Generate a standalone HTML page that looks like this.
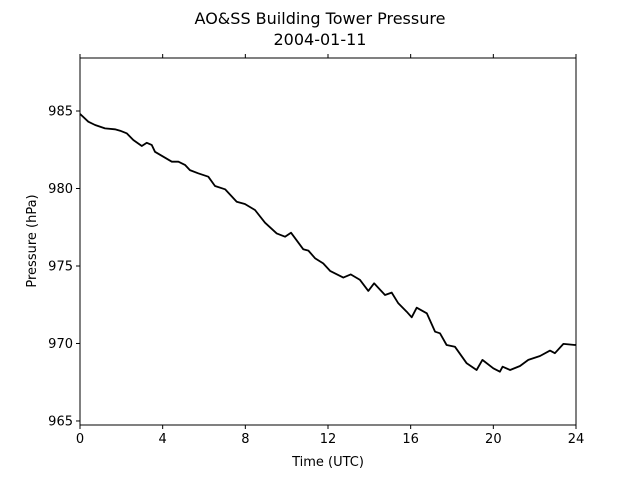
<!DOCTYPE html>
<html><head><meta charset="utf-8"><style>
body{margin:0;background:#fff}
svg{display:block;font-family:"DejaVu Sans","Liberation Sans",sans-serif}
</style></head><body>
<svg id="chart" width="640" height="480" viewBox="0 0 640 480">
<text x="320" y="24" text-anchor="middle" font-size="16">AO&amp;SS Building Tower Pressure</text>
<text x="320" y="45" text-anchor="middle" font-size="16">2004-01-11</text>
<rect x="80" y="58" width="496" height="367" fill="none" stroke="#000" stroke-width="1"/>
<g id="xticks"></g>
<g id="yticks"></g>
<path id="line" fill="none" stroke="#000" stroke-width="1.8" stroke-linejoin="round"/>
<text x="328" y="466" text-anchor="middle" font-size="13">Time (UTC)</text>
<text transform="translate(36,241) rotate(-90)" text-anchor="middle" font-size="13">Pressure (hPa)</text>
</svg>
<script>
const hours=[0,0.40,0.73,1.21,1.69,1.94,2.26,2.58,2.99,3.23,3.47,3.63,4.03,4.44,4.76,5.08,5.32,5.72,6.21,6.53,7.02,7.58,7.98,8.47,8.95,9.52,9.92,10.21,10.80,11.05,11.37,11.77,12.10,12.74,13.10,13.55,13.95,14.23,14.76,15.08,15.40,15.81,16.05,16.29,16.78,17.18,17.42,17.74,18.14,18.71,19.19,19.47,20.00,20.32,20.45,20.81,21.29,21.69,22.26,22.74,22.98,23.39,23.95,24];
const pressure=[984.81,984.31,984.10,983.88,983.82,983.73,983.56,983.13,982.74,982.95,982.81,982.37,982.05,981.73,981.73,981.52,981.19,980.98,980.76,980.16,979.95,979.15,979.00,978.61,977.79,977.10,976.89,977.15,976.08,975.99,975.50,975.17,974.68,974.25,974.46,974.10,973.39,973.88,973.13,973.28,972.59,972.05,971.69,972.31,971.95,970.76,970.66,969.90,969.79,968.72,968.29,968.94,968.40,968.18,968.50,968.29,968.55,968.94,969.19,969.54,969.37,969.97,969.90,969.92];
const xTickLabels=[0,4,8,12,16,20,24];
const yTickLabels=[965,970,975,980,985];
const X0=80,X1=576,Y0=425,Y1=58,XMIN=0,XMAX=24,YMIN=964.74,YMAX=988.42;
function sx(h){return X0+(h-XMIN)/(XMAX-XMIN)*(X1-X0);}
function sy(p){return Y0-(p-YMIN)/(YMAX-YMIN)*(Y0-Y1);}
const NS="http://www.w3.org/2000/svg";
const xg=document.getElementById('xticks'),yg=document.getElementById('yticks');
xTickLabels.forEach(v=>{
  const x=sx(v);
  [[Y0,Y0+4],[Y1,Y1-4]].forEach(([a,b])=>{
    const l=document.createElementNS(NS,'line');
    
    
    l.setAttribute('x1',x);l.setAttribute('x2',x);l.setAttribute('y1',a);l.setAttribute('y2',b);l.setAttribute('stroke','#000');
    xg.appendChild(l);
  });
  const t=document.createElementNS(NS,'text');
  
  
  t.setAttribute('x',x);t.setAttribute('y',Y0+18);t.setAttribute('text-anchor','middle');t.setAttribute('font-size','13');
  t.textContent=v;xg.appendChild(t);
});
yTickLabels.forEach(v=>{
  const y=sy(v);
  const l=document.createElementNS(NS,'line');
  
  
  l.setAttribute('x1',X0-4);l.setAttribute('x2',X0);l.setAttribute('y1',y);l.setAttribute('y2',y);l.setAttribute('stroke','#000');
  yg.appendChild(l);
  const t=document.createElementNS(NS,'text');
  
  
  t.setAttribute('x',X0-7);t.setAttribute('y',y+4.5);t.setAttribute('text-anchor','end');t.setAttribute('font-size','13');
  t.textContent=v;yg.appendChild(t);
});
document.getElementById('line').setAttribute('d',hours.map((h,i)=>(i?'L':'M')+sx(h).toFixed(1)+','+sy(pressure[i]).toFixed(1)).join(''));
</script>
</body></html>
